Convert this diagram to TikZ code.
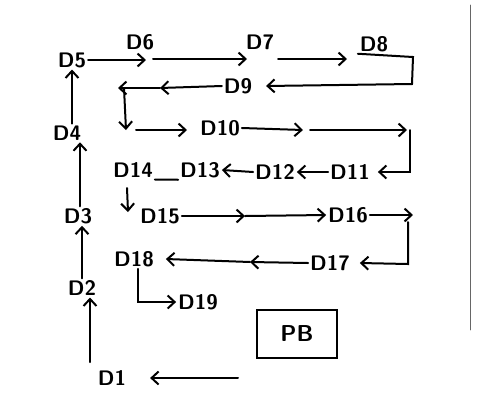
\documentclass[tikz,border=0pt]{standalone}
\usetikzlibrary{arrows.meta}
\begin{document}
\begin{tikzpicture}[x=1pt,y=-1pt,line width=2pt,line cap=round,
  >={Straight Barb[length=7pt,width=13pt]},
  lbl/.style={font=\sffamily\bfseries\fontsize{21}{24}\selectfont, inner sep=1pt}]
\useasboundingbox (0,0) rectangle (479,408);
% page edge
\draw[line width=0.8pt, black!60] (470,5) -- (470,330);
% left column
\node[lbl] (d5) at (72,60) {D5};
\node[lbl] (d4) at (67,133) {D4};
\node[lbl] (d3) at (78,216) {D3};
\node[lbl] (d2) at (82,288) {D2};
\node[lbl] (d1) at (112,378) {D1};
\draw[->] (d5.south |- d4.north) -- (d5.south);
\draw[->] ([xshift=2pt]d3.north) -- ([xshift=2pt]d3.north |- d4.south);
\draw[->] (d2.north) -- (d2.north |- d3.south);
\coordinate (b1) at (90,362);
\draw[->] (b1) -- (b1 |- d2.south);
\coordinate (pin) at (238,378);
\draw[->] (pin) -- ([xshift=22pt]d1.east);
% first row
\node[lbl] (d6) at (140,42) {D6};
\node[lbl] (d7) at (260,42) {D7};
\node[lbl] (d8) at (374,44) {D8};
\node[lbl] (d9) at (238,86) {D9};
\coordinate (t1) at (146,60);
\coordinate (t2) at (153,59);
\coordinate (t3) at (247,59);
\coordinate (t4) at (278,59);
\coordinate (t5) at (347,59);
\coordinate (t6) at (413,57);
\coordinate (t7) at (412,84);
\draw[->] (d5.east) -- (t1);
\draw[->] (t2) -- (t3);
\draw[->] (t4) -- (t5);
\draw[->] (d8.south west) -- (t6) -- (t7) -- ([xshift=12pt]d9.east);
\coordinate (t8) at (160,88);
\coordinate (t9) at (118,88);
\draw[->] (d9.west) -- (t8);
\draw[->] (t8) -- (t9);
\coordinate (t10) at (124,88);
\coordinate (t11) at (126,130);
\draw[->] (t10) -- (t11);
% second row
\node[lbl] (d10) at (220,128) {D10};
\coordinate (t12) at (136,130);
\coordinate (t13) at (187,130);
\coordinate (t14) at (303,130);
\coordinate (t15) at (310,130);
\coordinate (t16) at (407,130);
\draw[->] (t12) -- (t13);
\draw[->] (d10.east) -- (t14);
\draw[->] (t15) -- (t16);
% third row
\node[lbl] (d11) at (350,172) {D11};
\node[lbl] (d12) at (275,172) {D12};
\node[lbl] (d13) at (200,170) {D13};
\node[lbl] (d14) at (133,170) {D14};
\coordinate (t17) at (410,130);
\coordinate (t18) at (410,172);
\draw[->] (t17) -- (t18) -- ([xshift=6pt]d11.east);
\draw[->] (d11.west) -- (d12.east);
\draw[->] (d12.west) -- (d13.east);
\draw (d13.south west) -- (d14.south east);
\coordinate (t19) at (127,188);
\coordinate (t20) at (128,212);
\draw[->] (t19) -- (t20);
% fourth row
\node[lbl] (d15) at (160,216) {D15};
\node[lbl] (d16) at (348,215) {D16};
\coordinate (t21) at (245,216);
\coordinate (t22) at (413,215);
\draw[->] (d15.east) -- (t21);
\draw[->] (t21) -- (d16.west);
\draw[->] (d16.east) -- (t22);
% fifth row
\node[lbl] (d17) at (330,263) {D17};
\node[lbl] (d18) at (134,259) {D18};
\node[lbl] (d19) at (198,302) {D19};
\coordinate (t23) at (408,222);
\coordinate (t24) at (408,264);
\coordinate (t25) at (250,262);
\draw[->] (t23) -- (t24) -- ([xshift=8pt]d17.east);
\draw[->] (d17.west) -- (t25);
\draw[->] (t25) -- ([xshift=10pt]d18.east);
\draw[->] ([xshift=4pt]d18.south) |- (d19.west);
% box
\node[draw, line width=2.6pt, minimum width=80pt, minimum height=48pt,
  font=\sffamily\bfseries\fontsize{23}{26}\selectfont] (pb) at (297,334) {PB};
\end{tikzpicture}
\end{document}
